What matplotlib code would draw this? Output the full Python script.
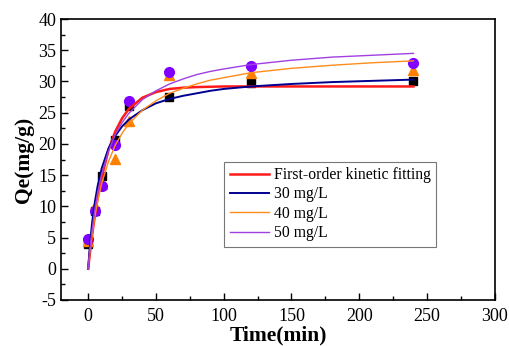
import numpy as np
import matplotlib
matplotlib.use('Agg')
import matplotlib.pyplot as plt
from matplotlib.ticker import MultipleLocator

plt.rcParams['font.family'] = ['Liberation Serif', 'DejaVu Serif']
plt.rcParams['axes.unicode_minus'] = False

# measured points
t_data = [0, 5, 10, 20, 30, 60, 120, 240]
q_30 = [4.0, 9.3, 14.9, 20.6, 26.0, 27.5, 29.8, 30.0]
q_40 = [4.5, 10.0, 13.5, 17.6, 23.7, 31.1, 31.4, 31.8]
q_50 = [4.8, 9.2, 13.3, 19.9, 26.9, 31.5, 32.4, 33.0]

# fitted curves
t_fit = [0, 1, 2, 3, 5, 7, 10, 15, 20, 25, 30, 40, 50, 60, 70, 80, 90, 100, 120,
         150, 180, 210, 240]
fit_first = [0, 1.98, 3.82, 5.53, 8.63, 11.3, 14.7, 19.0, 22.0, 24.1, 25.6, 27.4, 28.3, 28.8,
             29.0, 29.1, 29.15, 29.2, 29.2, 29.2, 29.2, 29.2, 29.2]
fit_30 = [0, 2.99, 5.47, 7.54, 10.8, 13.3, 16.1, 19.3, 21.3, 22.8, 23.9, 25.4, 26.5, 27.2,
          27.7, 28.1, 28.5, 28.8, 29.2, 29.6, 29.9, 30.1, 30.3]
fit_40 = [0, 2.10, 3.97, 5.64, 8.50, 10.9, 13.7, 17.2, 19.8, 21.7, 23.2, 25.4, 26.9, 28.1,
          28.9, 29.6, 30.2, 30.6, 31.4, 32.1, 32.6, 33.0, 33.3]
fit_50 = [0, 2.44, 4.58, 6.46, 9.63, 12.2, 15.2, 18.9, 21.5, 23.4, 24.9, 27.1, 28.5, 29.6,
          30.4, 31.1, 31.6, 32.0, 32.7, 33.4, 33.9, 34.2, 34.5]

fig = plt.figure(figsize=(5.09, 3.46), dpi=100)
ax = fig.add_axes([0.12, 0.133, 0.852, 0.812])

ax.plot(t_data, q_30, 's', color='black', ms=6, zorder=3)
ax.plot(t_data, q_40, '^', color='#ff8000', ms=7, zorder=3)
ax.plot(t_data, q_50, 'o', color='#8000ff', ms=7, zorder=3)

ax.plot(t_fit, fit_first, color='#ff1a1a', lw=1.8, label='First-order kinetic fitting', zorder=4)
ax.plot(t_fit, fit_30, color='#000090', lw=1.4, label='30 mg/L', zorder=4)
ax.plot(t_fit, fit_40, color='#ff8c1a', lw=1.0, label='40 mg/L', zorder=4)
ax.plot(t_fit, fit_50, color='#a040e0', lw=1.0, label='50 mg/L', zorder=4)

ax.set_xlim(-20, 300)
ax.set_ylim(-5, 40)
ax.xaxis.set_major_locator(MultipleLocator(50))
ax.xaxis.set_minor_locator(MultipleLocator(25))
ax.yaxis.set_major_locator(MultipleLocator(5))
ax.yaxis.set_minor_locator(MultipleLocator(2.5))
ax.tick_params(which='both', direction='in', top=False, right=False, labelsize=13)
ax.tick_params(axis='x', pad=6)
ax.tick_params(which='major', length=5, width=1)
ax.tick_params(which='minor', length=3, width=1)
for s in ax.spines.values():
    s.set_linewidth(1.2)

ax.set_xlabel('Time(min)', fontsize=15.5, fontweight='bold', labelpad=0)
ax.set_ylabel('Qe(mg/g)', fontsize=15.5, fontweight='bold', labelpad=3)

leg = ax.legend(loc='lower left', bbox_to_anchor=(0.376, 0.189), fontsize=11.3,
                frameon=True, fancybox=False, handlelength=2.5, handletextpad=0.3,
                borderpad=0.35, labelspacing=0.22, borderaxespad=0)
leg.get_frame().set_edgecolor('#555555')
leg.get_frame().set_linewidth(0.8)

fig.savefig('out.png', dpi=100)
